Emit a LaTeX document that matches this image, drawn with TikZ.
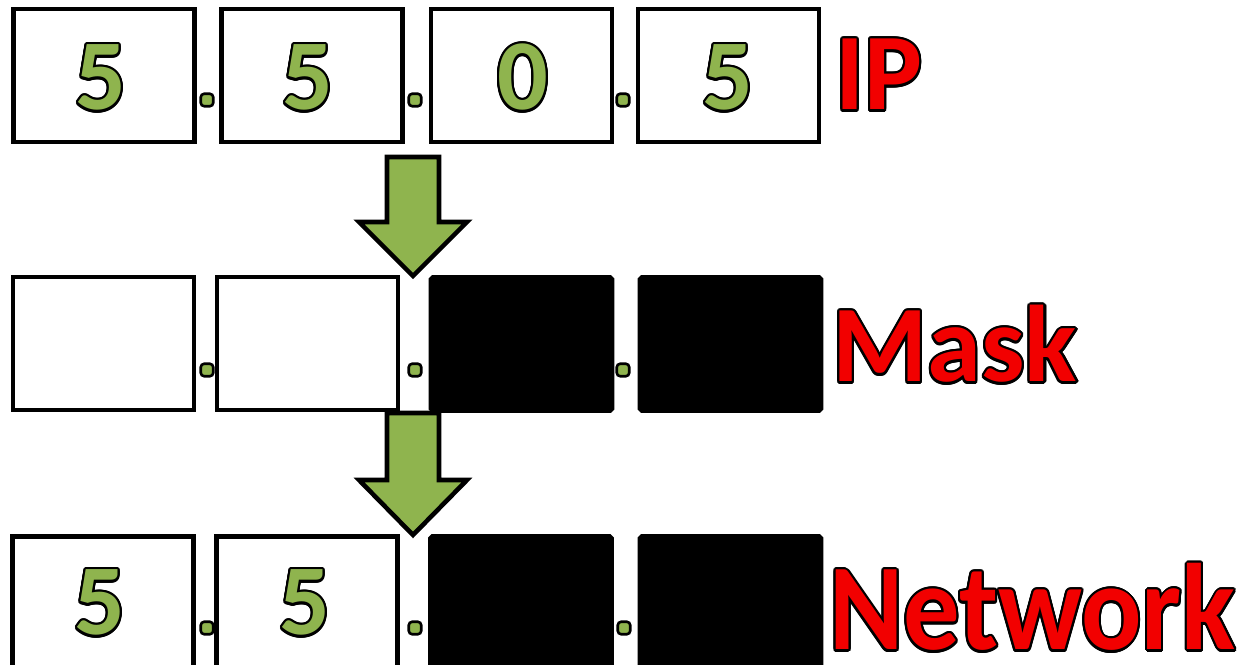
\documentclass[tikz,border=0pt]{standalone}
\usepackage{fontspec}
\setmainfont{Carlito}
\usepackage{contour}
\contourlength{1.3pt}
\contournumber{20}
\definecolor{octetgreen}{HTML}{8FB44E}
\definecolor{tagred}{HTML}{F20000}

\tikzset{
  octet/.style={draw=black,line width=2.6pt,fill=white,minimum width=3.62cm,minimum height=2.66cm,inner sep=0pt},
  hidden/.style={octet,fill=black,rounded corners=1pt},
  dotsep/.style={draw=black,line width=1.5pt,fill=octetgreen,minimum size=0.25cm,rounded corners=2pt,inner sep=0pt},
  digit/.style={font=\fontsize{57}{57}\selectfont\bfseries,text=octetgreen,inner sep=0pt,anchor=base},
  tag/.style={text=tagred,inner sep=0pt,anchor=base west}
}

\begin{document}
\begin{tikzpicture}[x=0.02cm,y=-0.02cm,
  bigarrow/.style={draw=black,line width=2.6pt,fill=octetgreen,line join=miter}]
  \useasboundingbox (0,0) rectangle (1249,665);
  \clip (0,0) rectangle (1249,665);

  % IP row
  \node[octet] (ip1) at (104,75.5) {};
  \node[octet] (ip2) at (312,75.5) {};
  \node[octet] (ip3) at (521.5,75.5) {};
  \node[octet] (ip4) at (728.5,75.5) {};
  \foreach \x/\d [count=\i] in {101/5,308/5,523/0,728/5}
    \node[digit] (ipd\i) at (\x,110) {\contour{black}{\d}};
  \node[dotsep] (ips1) at (207,100) {};
  \node[dotsep] (ips2) at (415,100) {};
  \node[dotsep] (ips3) at (623,100) {};
  \node[tag,font=\fontsize{62}{62}\selectfont\bfseries] (iptag) at (835,110) {\contour{black}{IP}};

  % Mask row
  \node[octet] (mk1) at (103.5,343.5) {};
  \node[octet] (mk2) at (307.5,343.5) {};
  \node[hidden] (mk3) at (521.5,344) {};
  \node[hidden] (mk4) at (730.5,344) {};
  \node[dotsep] (mks1) at (207,370) {};
  \node[dotsep] (mks2) at (415,370) {};
  \node[dotsep] (mks3) at (623,370) {};
  \node[tag,font=\fontsize{62}{62}\selectfont\bfseries] (mktag) at (832,382) {\contour{black}{Mask}};

  % Network row, boxes run past the lower edge
  \node[octet] (nw1) at (103,603) {};
  \node[octet] (nw2) at (307,603) {};
  \node[hidden] (nw3) at (521,603) {};
  \node[hidden] (nw4) at (730.5,603) {};
  \foreach \x [count=\i] in {100,305}
    \node[digit] (nwd\i) at (\x,635) {\contour{black}{5}};
  \node[dotsep] (nws1) at (207,628) {};
  \node[dotsep] (nws2) at (415,628) {};
  \node[dotsep] (nws3) at (624,628) {};
  \node[tag,font=\fontsize{70}{70}\selectfont\bfseries,xscale=0.915] (nwtag) at (829,650) {\contour{black}{Network}};

  % block arrows between the rows
  \coordinate (a1) at (413,157);
  \coordinate (a2) at (413,413);
  \path[bigarrow] (a1) ++(-26,0) -- ++(0,65) -- ++(-28,0) -- ++(54,54) -- ++(54,-54) -- ++(-28,0) -- ++(0,-65) -- cycle;
  \path[bigarrow] (a2) ++(-26,0) -- ++(0,67) -- ++(-28,0) -- ++(54,55) -- ++(54,-55) -- ++(-28,0) -- ++(0,-67) -- cycle;
\end{tikzpicture}
\end{document}
